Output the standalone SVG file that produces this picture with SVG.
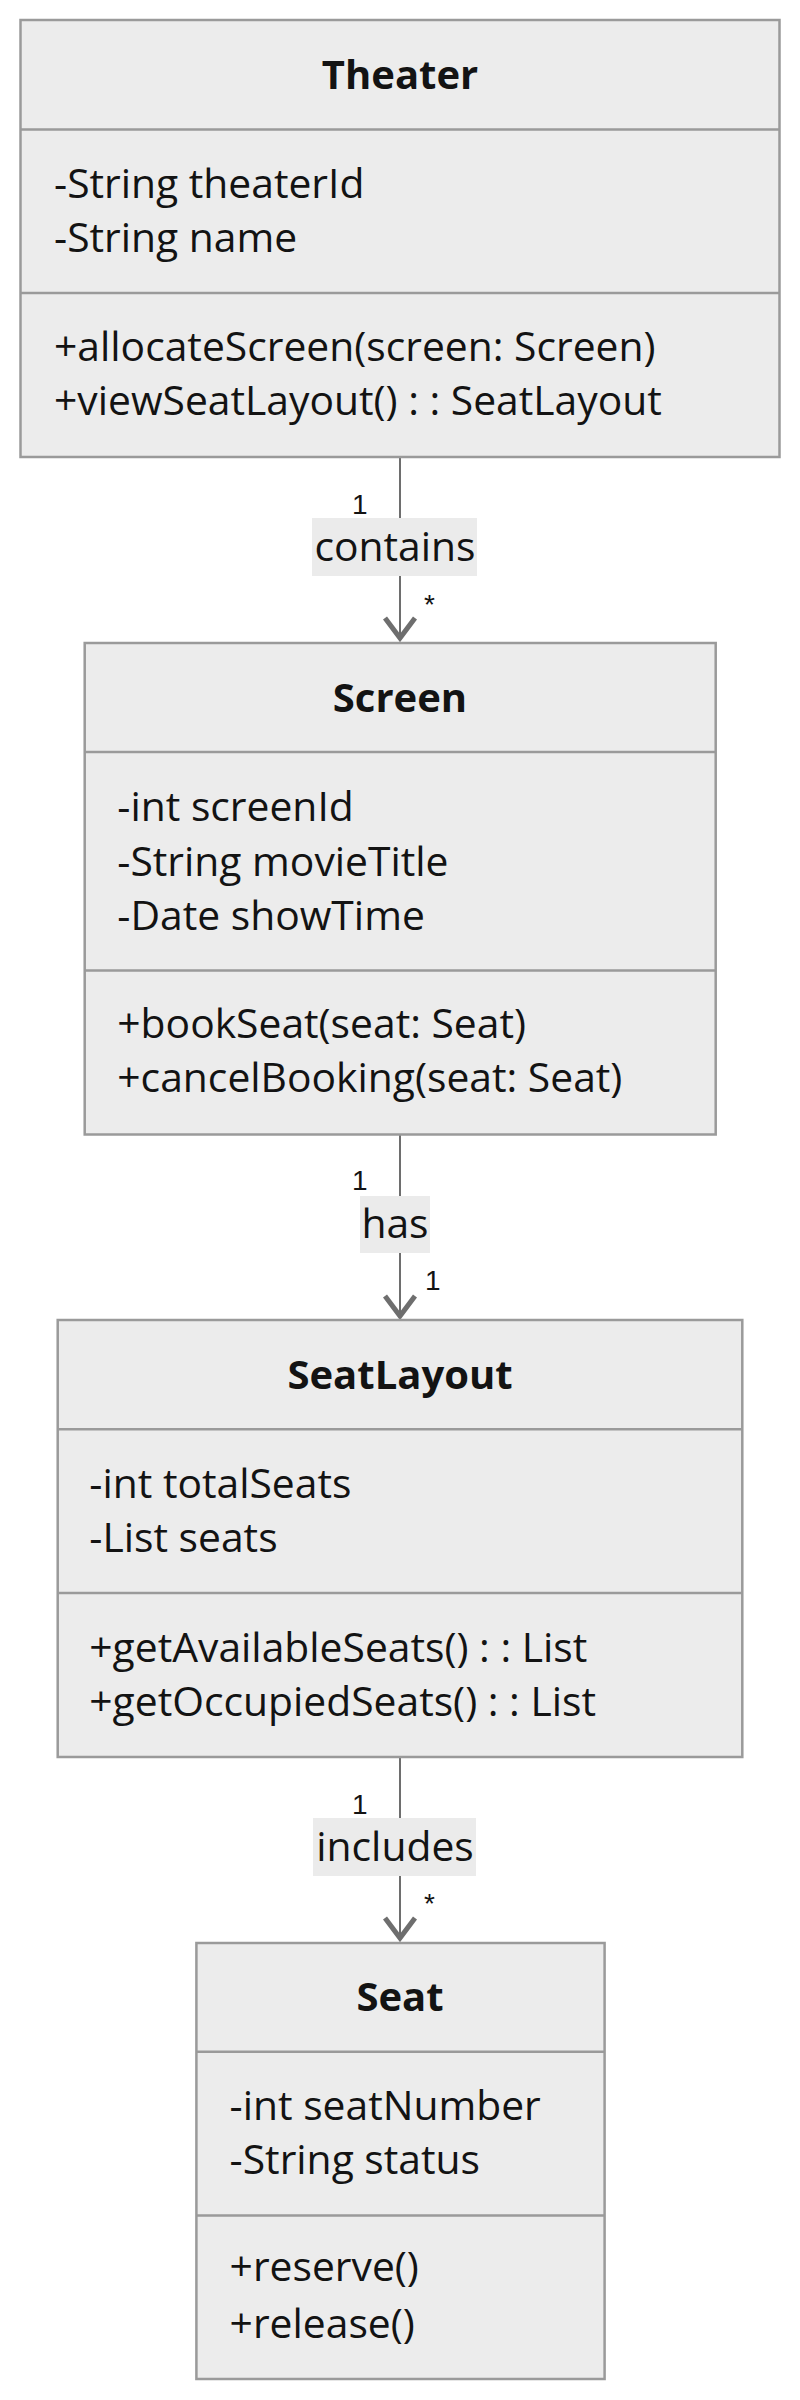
<svg xmlns="http://www.w3.org/2000/svg" width="800" height="2400" viewBox="0 0 800 2400">
<style>
.box{fill:#ECECEC;stroke:#9A9A9A;stroke-width:2.5}
.div{stroke:#9A9A9A;stroke-width:2.5}
.title{font-family:"Open Sans","Liberation Sans",sans-serif;font-size:40px;font-weight:bold;fill:#131313;text-anchor:middle}
.mem{font-family:"Open Sans","Liberation Sans",sans-serif;font-size:40.8px;fill:#131313}
.edge{stroke:#6E6E6E;stroke-width:2;fill:none}
.head{stroke:#6E6E6E;stroke-width:5;fill:none;stroke-linejoin:miter}
.lbl{fill:#EBEBEB}
.lbltxt{font-family:"Open Sans","Liberation Sans",sans-serif;font-size:40.8px;fill:#131313;text-anchor:middle}
.mult{font-family:"Liberation Sans",Arial,sans-serif;font-size:28px;fill:#131313}
</style>
<rect width="800" height="2400" fill="#FFFFFF"/>
<g id="connectors">
  <g id="e1">
    <line class="edge" x1="400" y1="457" x2="400" y2="636"/>
    <path class="head" d="M385,618 L400,638 L415,618"/>
    <rect class="lbl" x="312" y="518" width="165" height="58"/>
    <text class="lbltxt" x="395" y="561">contains</text>
    <text class="mult" x="352" y="514">1</text>
    <text class="mult" x="424" y="614">*</text>
  </g>
  <g id="e2">
    <line class="edge" x1="400" y1="1135" x2="400" y2="1314"/>
    <path class="head" d="M385,1296 L400,1316 L415,1296"/>
    <rect class="lbl" x="360" y="1196" width="70" height="57"/>
    <text class="lbltxt" x="395" y="1238">has</text>
    <text class="mult" x="352" y="1190">1</text>
    <text class="mult" x="425" y="1290">1</text>
  </g>
  <g id="e3">
    <line class="edge" x1="400" y1="1757" x2="400" y2="1936"/>
    <path class="head" d="M385,1918 L400,1938 L415,1918"/>
    <rect class="lbl" x="313" y="1818" width="163" height="58"/>
    <text class="lbltxt" x="395" y="1861">includes</text>
    <text class="mult" x="352" y="1814">1</text>
    <text class="mult" x="424" y="1913">*</text>
  </g>
</g>
<g id="Theater">
  <rect class="box" x="20.5" y="20" width="759" height="437"/>
  <line class="div" x1="20.5" y1="129.5" x2="779.5" y2="129.5"/>
  <line class="div" x1="20.5" y1="293" x2="779.5" y2="293"/>
  <text class="title" x="400" y="89">Theater</text>
  <text class="mem" x="54" y="198">-String theaterId</text>
  <text class="mem" x="54" y="252">-String name</text>
  <text class="mem" x="54" y="361">+allocateScreen(screen: Screen)</text>
  <text class="mem" x="54" y="415">+viewSeatLayout() : : SeatLayout</text>
</g>
<g id="Screen">
  <rect class="box" x="84.7" y="643" width="631" height="491.5"/>
  <line class="div" x1="84.7" y1="752" x2="715.7" y2="752"/>
  <line class="div" x1="84.7" y1="970.5" x2="715.7" y2="970.5"/>
  <text class="title" x="400" y="711.5">Screen</text>
  <text class="mem" x="117.3" y="821">-int screenId</text>
  <text class="mem" x="117.3" y="875.5">-String movieTitle</text>
  <text class="mem" x="117.3" y="930">-Date showTime</text>
  <text class="mem" x="117.3" y="1037.5">+bookSeat(seat: Seat)</text>
  <text class="mem" x="117.3" y="1091.5">+cancelBooking(seat: Seat)</text>
</g>
<g id="SeatLayout">
  <rect class="box" x="57.7" y="1320" width="684.6" height="437"/>
  <line class="div" x1="57.7" y1="1429.3" x2="742.3" y2="1429.3"/>
  <line class="div" x1="57.7" y1="1593" x2="742.3" y2="1593"/>
  <text class="title" x="400" y="1389">SeatLayout</text>
  <text class="mem" x="89.3" y="1497.5">-int totalSeats</text>
  <text class="mem" x="89.3" y="1551.7">-List seats</text>
  <text class="mem" x="89.3" y="1661.6">+getAvailableSeats() : : List</text>
  <text class="mem" x="89.3" y="1716.3">+getOccupiedSeats() : : List</text>
</g>
<g id="Seat">
  <rect class="box" x="196.4" y="1943" width="408.2" height="436"/>
  <line class="div" x1="196.4" y1="2051.7" x2="604.6" y2="2051.7"/>
  <line class="div" x1="196.4" y1="2215.5" x2="604.6" y2="2215.5"/>
  <text class="title" x="400" y="2011.3">Seat</text>
  <text class="mem" x="229.6" y="2120">-int seatNumber</text>
  <text class="mem" x="229.6" y="2174.4">-String status</text>
  <text class="mem" x="229.6" y="2281.4">+reserve()</text>
  <text class="mem" x="229.6" y="2337.5">+release()</text>
</g>
</svg>
